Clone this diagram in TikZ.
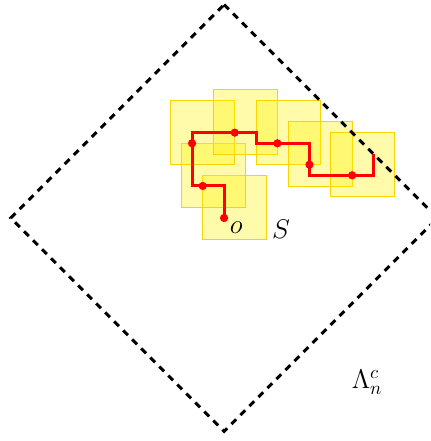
\documentclass[tikz,border=0pt]{standalone}
\usepackage{amsmath}
\usepackage{amssymb}
\usetikzlibrary{backgrounds,calc}

\begin{document}
\begin{tikzpicture}[x=0.2cm,y=0.2cm,site/.style={circle,fill=red,inner sep=0pt,minimum size=4.4pt}, walk/.style={draw=red,line width=1.6pt}, box/.style={draw={rgb,255:red,250;green,212;blue,0},line width=0.5pt,fill=yellow,fill opacity=0.33}, border/.style={draw=black,line width=1.6pt,dash pattern=on 3.6pt off 3.2pt}, lbl/.style={font=\Large,inner sep=0pt}]
\useasboundingbox (-21,-20.9) rectangle (19.3,20.43);
\clip (-21,-20.9) rectangle (19.3,20.43);

\node(p0)[site] at (0,0){};
\node(p1)[site] at (-2,3){};
\node(p2)[site] at (-3,7){};
\node(p3)[site] at (1,8){};
\node(p4)[site] at (5,7){};
\node(p5)[site] at (8,5){};
\node(p6)[site] at (12,4){};
\coordinate (tip) at (14,6);

\node(o)[lbl] at (1.15,-0.95){$o$};
\node(S)[lbl] at (5.35,-1.1){$S$};
\node(L)[lbl] at (13.4,-15.4){$\Lambda_n^c$};

\draw [border] (0,20) -- (20,0) -- (0,-20) -- (-20,0) -- cycle;

\begin{pgfonlayer}{background}
\foreach \p in {p0,p1,p2,p3,p4,p5,p6}
  \draw [box] ($(\p.center)+(-2,-2)$) rectangle +(6,6);
\draw [walk] (p0.center) |- (p1.center) -| (p2.center) |- (p3.center) -- ++(2,0) |- (p4.center) -| (p5.center) |- (p6.center) -| (tip);
\end{pgfonlayer}
\end{tikzpicture}
\end{document}
